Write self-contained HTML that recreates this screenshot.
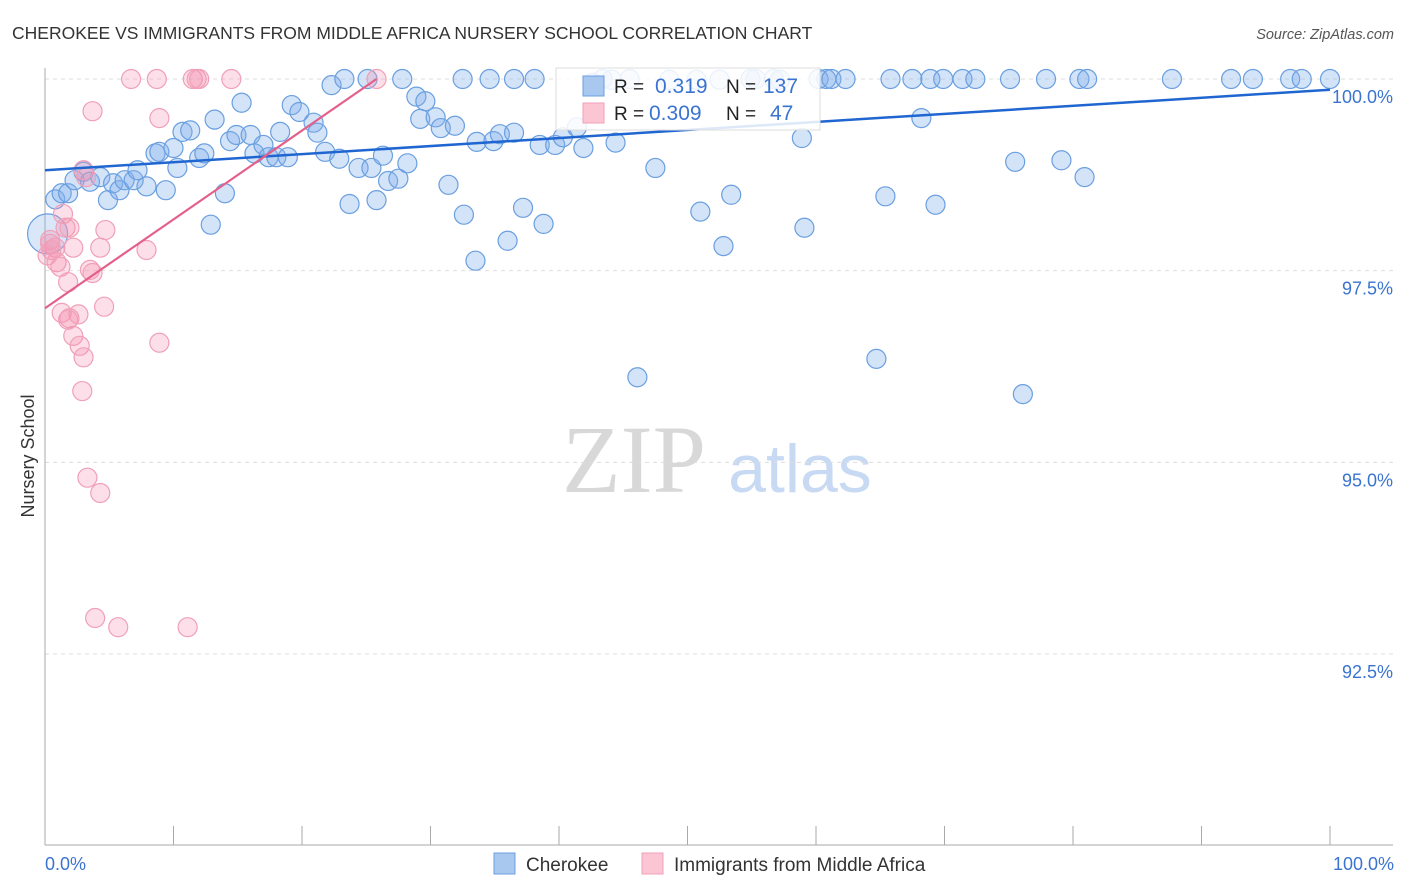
<!DOCTYPE html>
<html><head><meta charset="utf-8"><style>
body{margin:0;background:#fff;font-family:"Liberation Sans",sans-serif;}
#wrap{position:relative;width:1406px;height:892px;overflow:hidden;}
</style></head><body>
<div id="wrap">
<svg id="chart" width="1406" height="892" xmlns="http://www.w3.org/2000/svg">
<text x="12" y="39" font-size="17.5" fill="#333">CHEROKEE VS IMMIGRANTS FROM MIDDLE AFRICA NURSERY SCHOOL CORRELATION CHART</text>
<text x="1394" y="39" font-size="14.5" fill="#555" font-style="italic" text-anchor="end">Source: ZipAtlas.com</text>
<text x="634" y="492" font-size="96" fill="#d8d8d8" font-family="Liberation Serif,serif" text-anchor="middle">ZIP</text>
<text x="800" y="492" font-size="68" fill="#c8daf3" text-anchor="middle">atlas</text>
<text transform="translate(34,456) rotate(-90)" font-size="18" fill="#333" text-anchor="middle">Nursery School</text>
<g id="grid"></g><g id="axes"></g><g id="pts"></g><g id="trends"></g>
<g>
<rect x="556" y="68" width="264" height="62" fill="#fff" fill-opacity="0.85" stroke="#ddd"/>
<rect x="583" y="76" width="21" height="20" fill="#a9c8f0" stroke="#6a9fe0"/>
<text x="614" y="93" font-size="19" fill="#222">R = </text><text x="655" y="93" font-size="21" fill="#3a74d0">0.319</text>
<text x="726" y="93" font-size="19" fill="#222">N = </text><text x="763" y="93" font-size="21" fill="#3a74d0">137</text>
<rect x="583" y="103" width="21" height="20" fill="#fcc5d4" stroke="#f0a0b8"/>
<text x="614" y="120" font-size="19" fill="#222">R = </text><text x="649" y="120" font-size="21" fill="#3a74d0">0.309</text>
<text x="726" y="120" font-size="19" fill="#222">N = </text><text x="770" y="120" font-size="21" fill="#3a74d0">47</text>
</g>
<g>
<rect x="494" y="853" width="21" height="21" fill="#a9c8f0" stroke="#6a9fe0"/>
<text x="526" y="871" font-size="19" fill="#333">Cherokee</text>
<rect x="642" y="853" width="21" height="21" fill="#fcc5d4" stroke="#f0a0b8"/>
<text x="674" y="871" font-size="19" fill="#333">Immigrants from Middle Africa</text>
</g>
<text x="45" y="870" font-size="18" fill="#3a74d0">0.0%</text>
<text x="1394" y="870" font-size="18" fill="#3a74d0" text-anchor="end">100.0%</text>
</svg>
</div>
<script>
const yTicks=[100,97.5,95,92.5];
const yTickLabels=["100.0%","97.5%","95.0%","92.5%"];
const xTickVals=[0,10,20,30,40,50,60,70,80,90,100];
const blueX=[0.8,1.3,1.8,2.3,3.0,3.5,4.3,4.9,5.3,5.8,6.2,6.9,7.2,7.9,8.6,8.9,9.4,10.0,10.3,10.7,11.3,12.0,12.4,12.9,13.2,14.0,14.4,14.9,15.3,16.0,16.3,17.0,17.4,18.0,18.3,18.9,19.2,19.8,20.9,21.2,21.8,22.3,22.9,23.3,23.7,24.4,25.1,25.4,25.8,26.3,26.7,27.5,27.8,28.2,28.9,29.2,29.6,30.4,30.8,31.4,31.9,32.5,32.6,33.5,33.6,34.6,34.9,35.4,36.0,36.5,36.5,37.2,38.1,38.5,38.8,39.7,40.3,41.4,41.9,43.4,44.4,45.5,47.5,51.0,52.8,53.4,54.9,55.3,56.7,58.9,59.1,60.2,60.8,61.2,62.3,64.7,65.4,65.8,67.5,68.2,68.9,69.9,71.4,72.4,75.1,75.5,76.1,79.1,80.5,81.1,80.9,87.7,92.3,94.0,96.9,97.8,100,46.1,69.3,77.9,42.6,44.1,48.6,50.7,52.5,57.2];
const blueY=[98.43,98.51,98.51,98.68,98.79,98.66,98.72,98.42,98.64,98.55,98.68,98.68,98.81,98.60,99.03,99.05,98.55,99.10,98.84,99.31,99.33,98.97,99.03,98.10,99.47,98.51,99.19,99.27,99.69,99.27,99.03,99.14,98.98,98.98,99.31,98.98,99.66,99.57,99.43,99.30,99.05,99.92,98.96,100,98.37,98.84,100,98.84,98.42,99.0,98.67,98.70,100,98.90,99.77,99.48,99.71,99.50,99.36,98.62,99.39,100,98.23,97.63,99.18,100,99.19,99.28,97.89,99.30,100,98.32,100,99.14,98.11,99.14,99.24,99.37,99.10,100,99.17,100,98.84,98.27,97.82,98.49,100,100,100,99.23,98.06,100,100,100,100,96.35,98.47,100,100,99.49,100,100,100,100,100,98.92,95.89,98.94,100,100,98.72,100,100,100,100,100,100,96.11,98.36,100,99.95,99.99,99.99,99.99,99.99,99.99];
const pinkX=[6.7,8.7,11.5,11.8,12.0,14.5,25.8,3.7,8.9,3.0,3.2,1.4,1.6,1.9,4.7,0.4,0.8,2.2,4.3,7.9,0.9,1.2,3.5,3.7,1.8,4.6,1.3,1.9,2.6,2.2,2.7,3.0,8.9,2.9,3.3,4.3,3.9,5.7,11.1,0.4,0.5,0.2,1.8];
const pinkY=[100,100,100,100,100,100,100,99.58,99.49,98.81,98.72,98.24,98.06,98.06,98.03,97.90,97.80,97.80,97.80,97.77,97.61,97.55,97.51,97.47,97.35,97.03,96.95,96.88,96.93,96.65,96.52,96.37,96.56,95.93,94.80,94.60,92.97,92.85,92.85,97.85,97.77,97.70,96.86];
const bigX=[0.2];
const bigY=[97.98];
const blueTrendX=[0,100];
const blueTrendY=[98.81,99.86];
const pinkTrendX=[0,25.8];
const pinkTrendY=[97.01,100];

const NS="http://www.w3.org/2000/svg";
function sx(v){return 45+v*12.85;}
function sy(v){return 79+(100-v)*76.67;}
function mk(tag,attrs,parent){const e=document.createElementNS(NS,tag);for(const k in attrs)e.setAttribute(k,attrs[k]);document.getElementById(parent).appendChild(e);return e;}

yTicks.forEach((t,i)=>{
  const l=mk('line',{x1:45,x2:1393,y1:sy(t),y2:sy(t),stroke:'#ddd','stroke-dasharray':'4,4'},'grid');
  
  
  const tx=mk('text',{x:1393,y:sy(t)+24,'font-size':18,fill:'#3a74d0','text-anchor':'end'},'grid');
  tx.textContent=yTickLabels[i];
  
  
});
let a=mk('line',{x1:45,x2:45,y1:68,y2:845,stroke:'#aaa'},'axes');


a=mk('line',{x1:45,x2:1393,y1:845,y2:845,stroke:'#aaa'},'axes');


xTickVals.forEach(v=>{
  const t=mk('line',{x1:sx(v),x2:sx(v),y1:826,y2:845,stroke:'#aaa'},'axes');
  
  
});
blueX.forEach((x,i)=>{
  const c=mk('circle',{cx:sx(x),cy:sy(blueY[i]),r:9.5,fill:'rgba(130,175,235,0.35)',stroke:'#6a9fe0','stroke-width':1.2},'pts');
  
  
});
bigX.forEach((x,i)=>{
  const c=mk('circle',{cx:sx(x),cy:sy(bigY[i]),r:20,fill:'rgba(130,175,235,0.3)',stroke:'#6a9fe0','stroke-width':1.2},'pts');
  
  
});
pinkX.forEach((x,i)=>{
  const c=mk('circle',{cx:sx(x),cy:sy(pinkY[i]),r:9.5,fill:'rgba(245,150,180,0.3)',stroke:'#f0a0b8','stroke-width':1.2},'pts');
  
  
});
let tl=mk('line',{x1:sx(blueTrendX[0]),y1:sy(blueTrendY[0]),x2:sx(blueTrendX[1]),y2:sy(blueTrendY[1]),stroke:'#1f66d1','stroke-width':2.5},'trends');


tl=mk('line',{x1:sx(pinkTrendX[0]),y1:sy(pinkTrendY[0]),x2:sx(pinkTrendX[1]),y2:sy(pinkTrendY[1]),stroke:'#e4608a','stroke-width':2.2},'trends');


</script>
</body></html>
